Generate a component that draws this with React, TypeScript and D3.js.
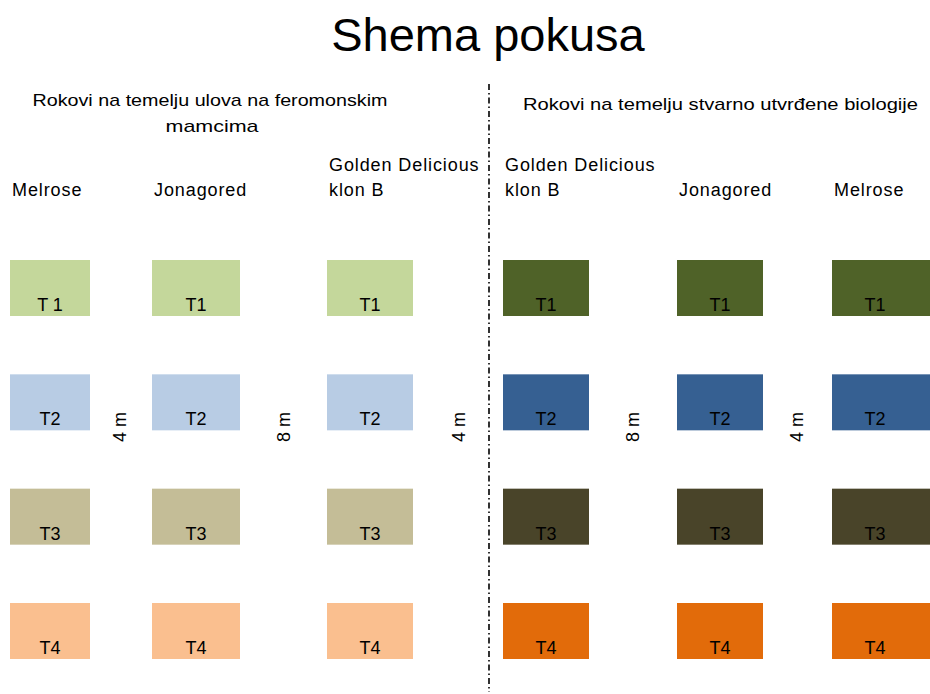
import { useEffect, useRef } from 'react';
import * as d3 from 'd3';

const width = 930;
const height = 694;

// column labels (each line of a label as its own entry)
const leftColumns = [['Melrose'], ['Jonagored'], ['Golden Delicious', 'klon B']];
const rightColumns = [['Golden Delicious', 'klon B'], ['Jonagored'], ['Melrose']];
const treatments = ['T1', 'T2', 'T3', 'T4'];
const leftLabels = ['T 1', 'T1', 'T1'];
const lightColors = ['#c4d79b', '#b8cce4', '#c4bd97', '#fabf8f'];
const darkColors = ['#4f6228', '#366092', '#494429', '#e26b0a'];
const spacings = ['4 m', '8 m', '4 m', '8 m', '4 m'];
const headers = ['Rokovi na temelju ulova na feromonskim', 'mamcima'];
const headerRight = 'Rokovi na temelju stvarno utvrđene biologije';

const font = "'Liberation Sans', Arial, sans-serif";

export default function App() {
    const ref = useRef<SVGSVGElement>(null);

    useEffect(() => {
        const svg = d3.select(ref.current);
        svg.selectAll('*').remove();

        const colX = [10, 152, 327, 503, 677, 832];
        const colW = [80, 88, 86, 86, 86, 100];
        const y = d3.scalePoint().domain(treatments).range([260, 603]);
        const boxH = 56;

        const columns = [...leftColumns, ...rightColumns].map((lines, i) => ({
            lines,
            i,
            side: i < 3 ? 'left' : 'right',
        }));

        svg.append('text')
            .attr('x', 488).attr('y', 51)
            .attr('text-anchor', 'middle')
            .attr('font-family', font)
            .attr('font-size', 47)
            .attr('fill', '#000')
            .text('Shema pokusa');

        const hdrLen = [355, 93];
        svg.selectAll('text.hdr')
            .data(headers)
            .join('text')
            .attr('class', 'hdr')
            .attr('x', (d, i) => (i === 0 ? 210 : 212))
            .attr('y', (d, i) => 106 + i * 26)
            .attr('text-anchor', 'middle')
            .attr('font-family', font)
            .attr('font-size', 17)
            .attr('textLength', (d, i) => hdrLen[i])
            .attr('lengthAdjust', 'spacingAndGlyphs')
            .attr('fill', '#000')
            .text(d => d);

        svg.append('text')
            .attr('x', 523).attr('y', 110)
            .attr('font-family', font)
            .attr('font-size', 17)
            .attr('textLength', 395)
            .attr('lengthAdjust', 'spacingAndGlyphs')
            .attr('fill', '#000')
            .text(headerRight);

        // divider
        svg.append('line')
            .attr('x1', 489).attr('x2', 489)
            .attr('y1', 84).attr('y2', 692)
            .attr('stroke', '#000')
            .attr('stroke-width', 1.6)
            .attr('stroke-dasharray', '6,3,1.5,3');

        const col = svg.selectAll('g.col')
            .data(columns)
            .join('g')
            .attr('class', 'col')
            .attr('transform', d => `translate(${colX[d.i]},0)`);

        col.selectAll('text.name')
            .data(d => d.lines.map((l, k, arr) => ({ l, k, n: arr.length })))
            .join('text')
            .attr('class', 'name')
            .attr('x', 2)
            .attr('y', d => 196 - (d.n - 1 - d.k) * 25)
            .attr('font-family', font)
            .attr('font-size', 18)
            .attr('letter-spacing', 0.9)
            .attr('fill', '#000')
            .text(d => d.l);

        const box = col.selectAll('g.box')
            .data(d => treatments.map((t, r) => ({
                t, r, c: d.i,
                label: r === 0 && d.i < 3 ? leftLabels[d.i] : t,
                color: d.side === 'left' ? lightColors[r] : darkColors[r],
            })))
            .join('g')
            .attr('class', 'box')
            .attr('transform', d => `translate(0,${y(d.t)})`);

        box.append('rect')
            .attr('width', d => colW[d.c])
            .attr('height', boxH)
            .attr('fill', d => d.color);

        box.append('text')
            .attr('x', d => (d.c === 5 ? 86 : colW[d.c]) / 2)
            .attr('y', 51)
            .attr('text-anchor', 'middle')
            .attr('font-family', font)
            .attr('font-size', 18)
            .attr('fill', '#000')
            .text(d => d.label);

        const gapX = [120, 284, 459, 633, 797];
        svg.selectAll('text.gap')
            .data(spacings)
            .join('text')
            .attr('class', 'gap')
            .attr('transform', (d, i) => `translate(${gapX[i] + 6},427) rotate(-90)`)
            .attr('text-anchor', 'middle')
            .attr('font-family', font)
            .attr('font-size', 18)
            .attr('fill', '#000')
            .text(d => d);
    }, []);

    return <svg ref={ref} width={width} height={height} style={{ position: 'absolute', left: 0, top: 0 }} />;
}
